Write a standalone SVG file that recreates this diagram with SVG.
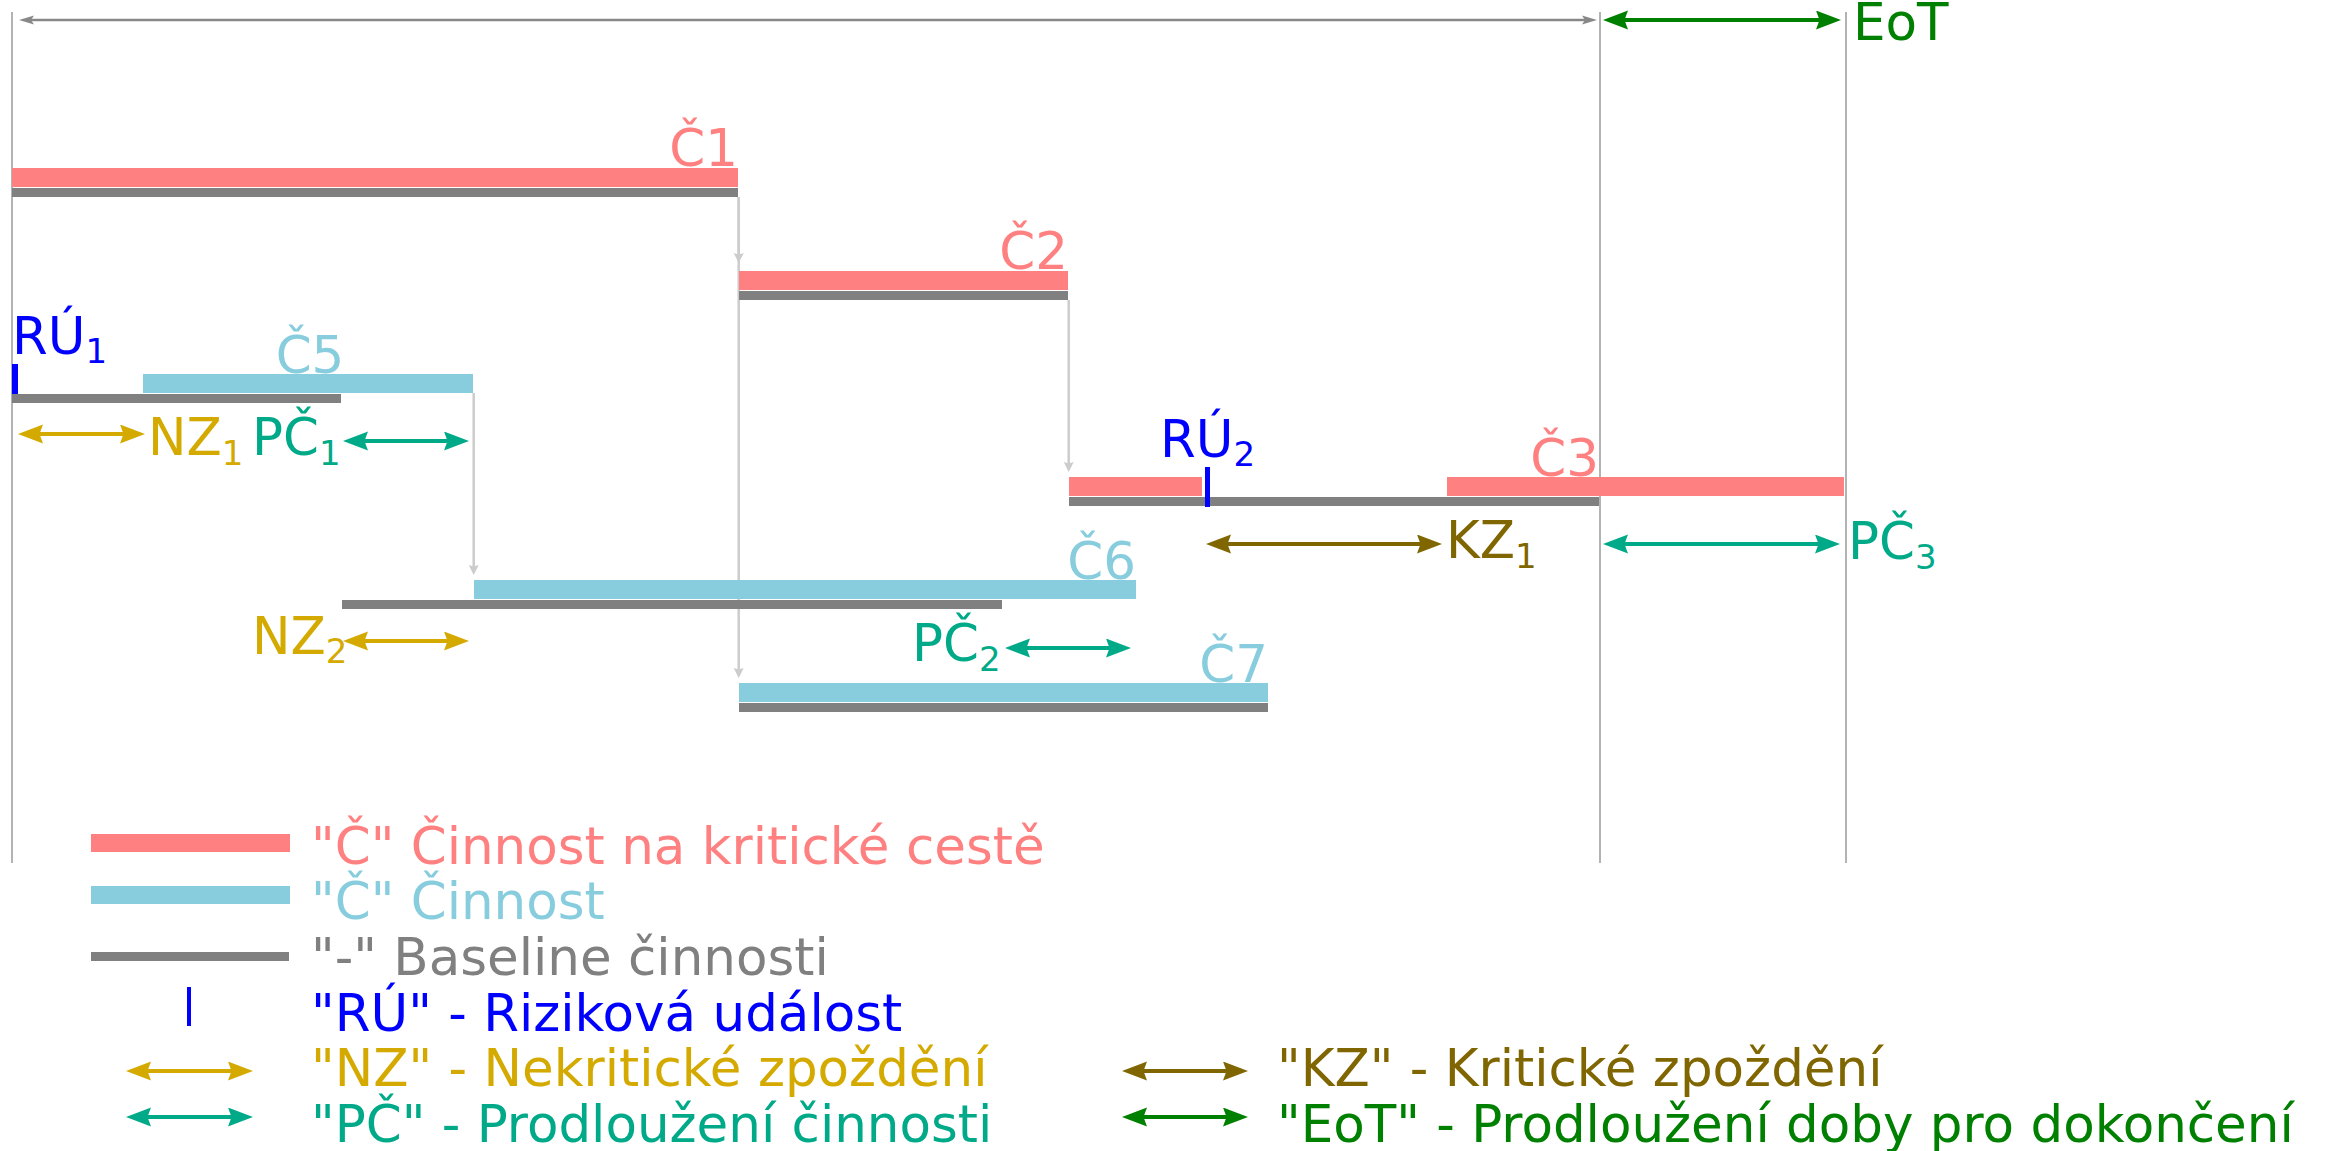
<svg xmlns="http://www.w3.org/2000/svg" width="2328" height="1151" viewBox="0 0 2328 1151">
<style>
text{font-family:"DejaVu Sans","Liberation Sans",sans-serif;font-size:51.5px}
.sub{font-size:34px}
.red{fill:#ff8080}.blue{fill:#87cdde}.grey{fill:#808080}.risk{fill:#0000ff}
.tgold{fill:#d4aa00}.tteal{fill:#00aa88}.tolive{fill:#806600}.tgreen{fill:#008000}
.vline{stroke:#b3b3b3;stroke-width:2;fill:none}
.conn{stroke:#cccccc;stroke-width:2.5;fill:none;marker-end:url(#mconn)}
.agold{stroke:#d4aa00;stroke-width:4;fill:none;marker-start:url(#hgold);marker-end:url(#hgold)}
.ateal{stroke:#00aa88;stroke-width:4;fill:none;marker-start:url(#hteal);marker-end:url(#hteal)}
.aolive{stroke:#806600;stroke-width:4;fill:none;marker-start:url(#holive);marker-end:url(#holive)}
.agreen{stroke:#008000;stroke-width:4;fill:none;marker-start:url(#hgreen);marker-end:url(#hgreen)}
.agrey{stroke:#888888;stroke-width:2.5;fill:none;marker-start:url(#hgrey);marker-end:url(#hgrey)}
</style>
<defs>
<marker id="hgold" markerUnits="userSpaceOnUse" markerWidth="26" markerHeight="20" refX="13" refY="9.5" orient="auto-start-reverse"><path d="M25,9.5 L0,0 L3.5,9.5 L0,19 Z" fill="#d4aa00"/></marker>
<marker id="hteal" markerUnits="userSpaceOnUse" markerWidth="26" markerHeight="20" refX="13" refY="9.5" orient="auto-start-reverse"><path d="M25,9.5 L0,0 L3.5,9.5 L0,19 Z" fill="#00aa88"/></marker>
<marker id="holive" markerUnits="userSpaceOnUse" markerWidth="26" markerHeight="20" refX="13" refY="9.5" orient="auto-start-reverse"><path d="M25,9.5 L0,0 L3.5,9.5 L0,19 Z" fill="#806600"/></marker>
<marker id="hgreen" markerUnits="userSpaceOnUse" markerWidth="26" markerHeight="20" refX="13" refY="9.5" orient="auto-start-reverse"><path d="M25,9.5 L0,0 L3.5,9.5 L0,19 Z" fill="#008000"/></marker>
<marker id="hgrey" markerUnits="userSpaceOnUse" markerWidth="16" markerHeight="10" refX="8" refY="5" orient="auto-start-reverse"><path d="M15,5 L0,0.5 L3,5 L0,9.5 Z" fill="#888888"/></marker>
<marker id="mconn" markerUnits="userSpaceOnUse" markerWidth="11" markerHeight="11" refX="4" refY="5" orient="auto"><path d="M10,5 L0,0 L1.5,5 L0,10 Z" fill="#cccccc"/></marker>
</defs>
<rect width="2328" height="1151" fill="#ffffff"/>

<g id="time-axis">
<line class="vline" x1="12" y1="12" x2="12" y2="863"/>
<line class="vline" x1="1600" y1="12" x2="1600" y2="863"/>
<line class="vline" x1="1846" y1="12" x2="1846" y2="863"/>
<line class="agrey" x1="26" y1="20" x2="1590" y2="20"/>
<line class="agreen" x1="1615" y1="20" x2="1829" y2="20"/>
<text class="tgreen" x="1853" y="40">EoT</text>
</g>

<g id="connectors">
<line class="conn" x1="738.7" y1="197" x2="738.7" y2="257"/>
<line class="conn" x1="738.7" y1="197" x2="738.7" y2="672"/>
<line class="conn" x1="1068.7" y1="300" x2="1068.7" y2="466"/>
<line class="conn" x1="473.7" y1="393" x2="473.7" y2="569"/>
</g>

<g id="C1">
<rect class="red" x="12" y="168" width="726" height="19"/>
<rect class="grey" x="12" y="188" width="726" height="9"/>
<text class="red" x="738" y="166" text-anchor="end">Č1</text>
</g>

<g id="C2">
<rect class="red" x="739" y="271" width="329" height="19"/>
<rect class="grey" x="739" y="291" width="329" height="9"/>
<text class="red" x="1068" y="269" text-anchor="end">Č2</text>
</g>

<g id="C3">
<rect class="red" x="1069" y="477" width="133" height="19"/>
<rect class="red" x="1447" y="477" width="397" height="19"/>
<rect class="grey" x="1069" y="497" width="530" height="9"/>
<text class="red" x="1599" y="476" text-anchor="end">Č3</text>
</g>

<g id="RU2">
<rect class="risk" x="1205" y="467" width="5" height="40"/>
<text class="risk" x="1160" y="457">RÚ<tspan class="sub" dy="9">2</tspan></text>
</g>

<g id="KZ1">
<line class="aolive" x1="1218" y1="544" x2="1430" y2="544"/>
<text class="tolive" x="1446" y="558">KZ<tspan class="sub" dy="10">1</tspan></text>
</g>

<g id="PC3">
<line class="ateal" x1="1615" y1="544" x2="1828" y2="544"/>
<text class="tteal" x="1848" y="559">PČ<tspan class="sub" dy="10">3</tspan></text>
</g>

<g id="RU1">
<rect class="risk" x="12" y="364" width="6" height="39"/>
<text class="risk" x="12" y="354">RÚ<tspan class="sub" dy="9">1</tspan></text>
</g>

<g id="C5">
<rect class="blue" x="143" y="374" width="330" height="19"/>
<rect class="grey" x="12" y="394" width="329" height="9"/>
<text class="blue" x="310" y="373" text-anchor="middle">Č5</text>
</g>

<g id="NZ1">
<line class="agold" x1="30" y1="434" x2="133" y2="434"/>
<text class="tgold" x="148" y="455">NZ<tspan class="sub" dy="10">1</tspan></text>
</g>

<g id="PC1">
<line class="ateal" x1="355" y1="441" x2="457" y2="441"/>
<text class="tteal" x="252" y="455">PČ<tspan class="sub" dy="10">1</tspan></text>
</g>

<g id="C6">
<rect class="blue" x="474" y="580" width="662" height="19"/>
<rect class="grey" x="342" y="600" width="660" height="9"/>
<text class="blue" x="1136" y="579" text-anchor="end">Č6</text>
</g>

<g id="NZ2">
<line class="agold" x1="355" y1="641" x2="457" y2="641"/>
<text class="tgold" x="252" y="654">NZ<tspan class="sub" dy="9">2</tspan></text>
</g>

<g id="PC2">
<line class="ateal" x1="1017" y1="648" x2="1119" y2="648"/>
<text class="tteal" x="912" y="661">PČ<tspan class="sub" dy="10">2</tspan></text>
</g>

<g id="C7">
<rect class="blue" x="739" y="683" width="529" height="19"/>
<rect class="grey" x="739" y="703" width="529" height="9"/>
<text class="blue" x="1268" y="682" text-anchor="end">Č7</text>
</g>

<g id="legend">
<rect class="red" x="91" y="834" width="199" height="18"/>
<text class="red" x="311" y="864">"Č" Činnost na kritické cestě</text>
<rect class="blue" x="91" y="886" width="199" height="18"/>
<text class="blue" x="311" y="919">"Č" Činnost</text>
<rect class="grey" x="91" y="952" width="198" height="9"/>
<text class="grey" x="311" y="975">"-" Baseline činnosti</text>
<rect class="risk" x="187" y="987" width="4" height="39"/>
<text class="risk" x="311" y="1031">"RÚ" - Riziková událost</text>
<line class="agold" x1="138" y1="1071" x2="241" y2="1071"/>
<text class="tgold" x="311" y="1086">"NZ" - Nekritické zpoždění</text>
<line class="ateal" x1="138" y1="1117" x2="241" y2="1117"/>
<text class="tteal" x="311" y="1142">"PČ" - Prodloužení činnosti</text>
<line class="aolive" x1="1134" y1="1071" x2="1236" y2="1071"/>
<text class="tolive" x="1277" y="1086">"KZ" - Kritické zpoždění</text>
<line class="agreen" x1="1134" y1="1117" x2="1236" y2="1117"/>
<text class="tgreen" x="1277" y="1142">"EoT" - Prodloužení doby pro dokončení</text>
</g>
</svg>
